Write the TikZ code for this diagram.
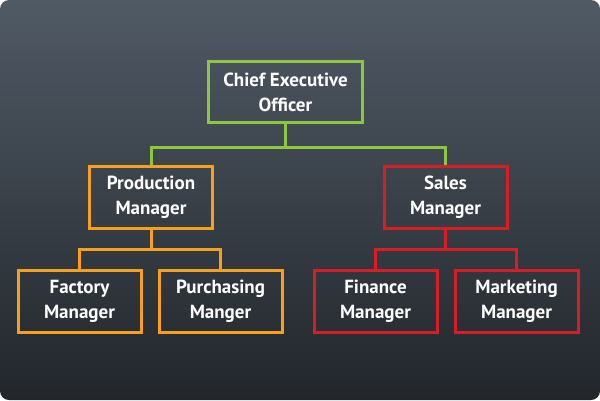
\documentclass[tikz,border=0pt]{standalone}
\usepackage{fontspec}
\setmainfont{PT Sans}
\usetikzlibrary{positioning}
\definecolor{bgtop}{RGB}{80,90,101}
\definecolor{bgbottom}{RGB}{34,38,43}
\definecolor{ceogreen}{RGB}{141,198,63}
\definecolor{prodorange}{RGB}{247,160,30}
\definecolor{salesred}{RGB}{215,30,38}

\begin{document}
\begin{tikzpicture}[x=1pt,y=-1pt]
   \shade[top color=bgtop,bottom color=bgbottom,rounded corners=9pt] (0,0) rectangle (600,400);
   \begin{scope}[every node/.style={rectangle,draw,line width=3pt,text=white,
       font=\fontsize{19}{25}\selectfont\bfseries,align=center,
       minimum width=123pt,minimum height=62pt,inner sep=0pt}]
    \node[draw=ceogreen,minimum width=154pt,minimum height=61pt] (ceo) at (285.5,92) {Chief Executive\\Officer};
    \node[draw=prodorange] (prod) at (151,197.5) {Production\\Manager};
    \node[draw=salesred] (sales) at (445.5,197.5) {Sales\\Manager};
    \node[draw=prodorange] (factory) at (79.5,301) {Factory\\Manager};
    \node[draw=prodorange] (purch) at (220.5,301) {Purchasing\\Manger};
    \node[draw=salesred] (finance) at (375.5,301) {Finance\\Manager};
    \node[draw=salesred] (market) at (516.5,301) {Marketing\\Manager};
   \end{scope}
   \begin{scope}[line width=3pt]
    \draw[ceogreen] (ceo.south) -- ++(0,23) -| (prod.north);
    \draw[ceogreen] (ceo.south) -- ++(0,23) -| (sales.north);
    \draw[prodorange] (prod.south) -- ++(0,19) -| (factory.north);
    \draw[prodorange] (prod.south) -- ++(0,19) -| (purch.north);
    \draw[salesred] (sales.south) -- ++(0,19) -| (finance.north);
    \draw[salesred] (sales.south) -- ++(0,19) -| (market.north);
   \end{scope}
\end{tikzpicture}
\end{document}
